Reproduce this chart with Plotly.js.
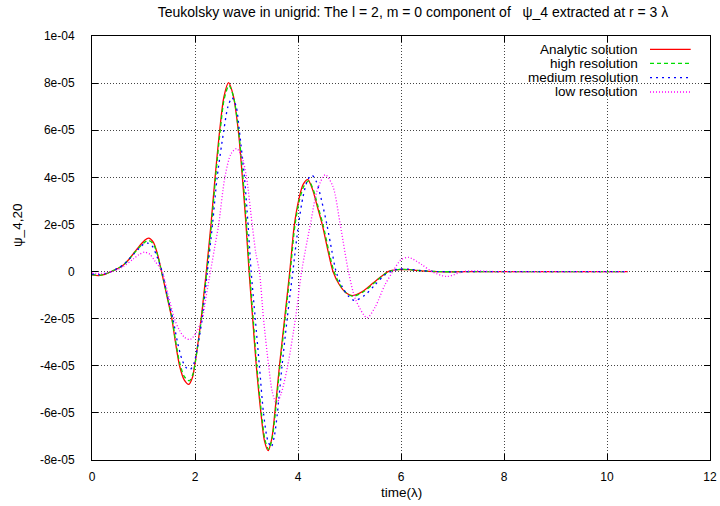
<!DOCTYPE html>
<html>
<head>
<meta charset="utf-8">
<script src="https://cdn.plot.ly/plotly-3.0.1.min.js"></script>
<style>html,body{margin:0;padding:0;background:#fff;}#chart{width:720px;height:506px;}</style>
</head>
<body>
<div id="chart"></div>
<script>
// values in units of 1e-6
const tAnalytic = [0,0.13,0.25,0.37,0.5,0.61,0.71,0.81,0.92,1.02,1.1,1.19,1.27,1.35,1.45,1.55,1.62,1.70,1.79,1.88,1.95,2.0,2.06,2.12,2.17,2.22,2.31,2.39,2.48,2.56,2.65,2.74,2.84,2.92,2.99,3.05,3.12,3.19,3.28,3.35,3.42,3.49,3.55,3.64,3.74,3.84,3.93,4.02,4.1,4.19,4.28,4.37,4.47,4.58,4.68,4.8,4.93,5.05,5.25,5.45,5.62,5.75,5.95,6.15,6.4,6.7,7.0,7.5,8.0,9.0,10.4];
const vAnalytic = [-1.4,-1.7,-1.2,0,1.3,2.8,5,7.8,10.8,13.2,14.2,12.5,7.5,0,-10,-20,-30,-40,-46,-47.9,-45,-39,-30,-20,-10,0,20,40,60,74,80.2,75,60,40,20,0,-20,-40,-60,-72,-76,-71,-60,-40,-20,0,20,31,37,39,35,28,20,9,0,-5.5,-9,-10.2,-8.5,-5,-2,0,0.8,0.8,0.3,0,-0.1,0,0,0,0];

const tHigh = [0,0.13,0.25,0.37,0.5,0.61,0.71,0.81,0.92,1.02,1.1,1.19,1.27,1.35,1.45,1.55,1.62,1.70,1.79,1.89,1.96,2.01,2.07,2.13,2.18,2.23,2.32,2.40,2.49,2.57,2.66,2.75,2.85,2.93,3.0,3.06,3.13,3.20,3.29,3.36,3.43,3.50,3.56,3.65,3.75,3.85,3.94,4.03,4.12,4.21,4.3,4.39,4.49,4.6,4.7,4.82,4.95,5.07,5.27,5.47,5.64,5.77,5.97,6.17,6.42,6.7,7.0,7.5,8.0,9.0,10.4];
const vHigh = [-1.3,-1.6,-1.1,0,1.3,2.8,5,7.6,10.3,12.4,13.2,11.8,7.2,0,-9.5,-19.5,-29,-38.5,-44.5,-46.4,-43.5,-38,-29,-19,-9.5,0,20,40,60,73.5,79,74,59,40,20,0,-20,-40,-60,-71.5,-75.5,-70.5,-60,-40,-20,0,19.5,30.5,36.5,38.5,34.5,27.5,19.5,8.5,0,-5.8,-9.3,-10.5,-8.6,-5,-1.8,0,0.9,0.8,0.3,0,-0.1,0,0,0,0];

const tMedium = [0,0.13,0.25,0.37,0.5,0.61,0.71,0.81,0.92,1.0,1.08,1.17,1.26,1.36,1.46,1.57,1.66,1.75,1.83,1.91,1.98,2.04,2.09,2.14,2.19,2.24,2.34,2.43,2.56,2.64,2.72,2.8,2.86,2.96,3.03,3.09,3.17,3.25,3.33,3.41,3.48,3.54,3.6,3.69,3.79,3.9,4.01,4.1,4.19,4.27,4.36,4.46,4.56,4.66,4.74,4.86,4.98,5.1,5.3,5.5,5.68,5.8,5.95,6.15,6.4,6.7,7.0,7.5,8.0,9.0,10.4];
const vMedium = [-1.0,-1.3,-0.9,0,1.4,2.9,5,7.4,10,11.6,12.1,10.8,6.5,0,-10,-20,-30,-37.5,-40.8,-41.5,-39,-33,-27,-20,-10,0,20,40,60,70,73.8,70,60,40,20,0,-20,-40,-60,-71.5,-74.5,-70,-60,-40,-20,0,20,32,39,40.9,38,30,20,8.5,0,-6.5,-10.5,-12.3,-10,-5.5,-1.5,0,1,1,0.4,0,-0.1,0,0,0,0];

const tLow = [0,0.2,0.4,0.6,0.8,0.92,1.02,1.12,1.22,1.36,1.48,1.6,1.7,1.8,1.91,2.02,2.14,2.22,2.30,2.38,2.46,2.58,2.7,2.81,2.92,3.0,3.11,3.18,3.25,3.33,3.43,3.5,3.58,3.67,3.8,3.95,4.07,4.24,4.38,4.53,4.68,4.82,4.98,5.12,5.34,5.5,5.68,5.84,6.0,6.15,6.4,6.6,6.89,7.21,7.45,7.8,8.5,9.5,10.4];
const vLow = [-0.7,-0.8,0,2,5.3,7.3,8.2,7.4,4.5,0,-10,-20,-25,-28,-28.8,-26,-20,-10,0,10,20,40,50,52.2,48,40,20,8,0,-20,-40,-51,-56,-52,-40,-20,0,20,35,41.1,36,20,0,-12,-19.6,-15,-6,0,5,6,3,0,-2.1,0,0.3,0,0,0,0];

const seriesNames = ["Analytic solution","high resolution","medium resolution","low resolution"];
const xTicks = [0,2,4,6,8,10,12];
const yTickVals = [-80,-60,-40,-20,0,20,40,60,80,100];
const yTickText = ["-8e-05","-6e-05","-4e-05","-2e-05","0","2e-05","4e-05","6e-05","8e-05","1e-04"];

const colors = ["#ff0000","#00dd00","#0000ff","#ff00ff"];
const dashes = ["solid","4px,3px","2px,4px","1px,2px"];
const xs = [tAnalytic,tHigh,tMedium,tLow];
const ys = [vAnalytic,vHigh,vMedium,vLow];

const traces = xs.map((x,i)=>({
  x:x, y:ys[i], type:"scatter", mode:"lines", name:seriesNames[i],
  line:{color:colors[i], width:1.3, dash:dashes[i], shape:"spline", smoothing:0.8},
  showlegend:false, hoverinfo:"skip"
}));

const fam = "Liberation Sans, Arial, sans-serif";
const font = {family:fam, size:12, color:"#000"};
const bigFont = {family:fam, size:13.5, color:"#000"};
const L=92, R=710, T=36, B=460;
const legRowsPx = [49.3,63.3,77.7,92];
const annotations = seriesNames.map((n,i)=>({
  xref:"paper", yref:"paper", x:(640-L)/(R-L), y:(B-legRowsPx[i])/(B-T),
  xanchor:"right", yanchor:"middle", text:n, showarrow:false, font:bigFont
}));
annotations.push({xref:"paper", yref:"paper", x:(18-L)/(R-L), y:(B-226)/(B-T),
  xanchor:"center", yanchor:"middle", text:"ψ_4,20", textangle:-90, showarrow:false, font:bigFont});
annotations.push({xref:"paper", yref:"paper", x:0.5, y:(B-492)/(B-T),
  xanchor:"center", yanchor:"middle", text:"time(λ)", showarrow:false, font:bigFont});
const shapes = seriesNames.map((n,i)=>({
  type:"line", xref:"paper", yref:"paper",
  x0:(650-L)/(R-L), x1:(690.7-L)/(R-L), y0:(B-legRowsPx[i])/(B-T), y1:(B-legRowsPx[i])/(B-T),
  line:{color:colors[i], width:1.3, dash:dashes[i]}
}));

const axisCommon = {
  showline:true, linecolor:"#000", linewidth:1, mirror:"allticks",
  ticks:"inside", ticklen:6, tickcolor:"#000", tickwidth:1,
  showgrid:true, gridcolor:"#444", griddash:"1px,2px", gridwidth:1,
  zeroline:false, tickfont:font, tickmode:"array", fixedrange:true
};

const layout = {
  width:720, height:506,
  margin:{l:L, r:720-R, t:T, b:506-B, pad:0},
  paper_bgcolor:"#fff", plot_bgcolor:"#fff",
  font:font,
  title:{text:"Teukolsky wave in unigrid: The l = 2, m = 0 component of \u00a0\u00a0ψ_4 extracted at r = 3 λ",
    x:413/720, xanchor:"center", xref:"container", y:1-12/506, yanchor:"middle", yref:"container",
    font:{family:fam, size:14, color:"#000"}},
  xaxis:Object.assign({}, axisCommon, {range:[0,12], tickvals:xTicks, ticktext:xTicks.map(String),
    ticklabelstandoff:6}),
  yaxis:Object.assign({}, axisCommon, {range:[-80,100], tickvals:yTickVals, ticktext:yTickText,
    ticklabelstandoff:14}),
  annotations:annotations, shapes:shapes, showlegend:false
};

Plotly.newPlot("chart", traces, layout, {displayModeBar:false, staticPlot:true});
</script>
</body>
</html>
